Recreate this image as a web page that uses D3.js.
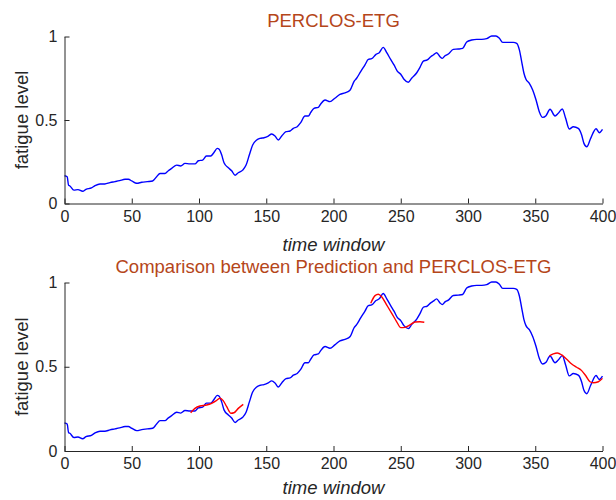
<!DOCTYPE html>
<html>
<head>
<meta charset="utf-8">
<script src="https://cdn.jsdelivr.net/npm/d3@7"></script>
<style>
  html, body { margin: 0; padding: 0; background: #fff; }
  svg { display: block; font-family: "Liberation Sans", Arial, sans-serif; }
</style>
</head>
<body>
<svg id="chart" width="616" height="500"></svg>
<script>
// ---- data ----
const timeWindow = [0,2,3,4,7,10,13.5,16,20,22.7,26.4,30,33.8,37.5,41,45,47.5,50,53.7,57.4,61.6,65.5,68.5,71,74.7,77,79.7,83.4,86.4,89.6,93.3,97,99.5,102.7,105.5,108.7,111,113.6,115,116.9,118.6,121.8,124.3,126.8,129.2,132.5,135,137.4,139.9,142.9,145.4,148.3,151.5,154,156.5,159,161.5,164.7,167.7,170.1,173,175.6,178.8,181.3,183,185.5,188.7,190.5,193.7,197.4,201,204.8,208.6,212.4,215.2,217.2,220.2,223.4,225.9,228.4,231.6,234,237,239.6,242.5,245,247.4,250,252.4,255.6,258.1,261.9,264.3,266.8,269.7,272.3,274.2,276.7,279.2,280.9,282.9,285.4,289.1,292.8,296,299,302.7,306.5,310.2,313.9,317.6,320.8,323.3,325.8,330,333.7,336.2,338.2,339.9,341.6,343.1,345.6,348.1,350.6,353,355.5,358,361,364.7,367.1,370.1,372.6,375.3,378.3,382,384.5,386.2,388.3,391.2,395.2,397.6,400];
const perclos = [0.166,0.16,0.11,0.105,0.08,0.083,0.073,0.085,0.093,0.107,0.117,0.117,0.125,0.131,0.137,0.145,0.145,0.135,0.121,0.127,0.131,0.135,0.16,0.18,0.18,0.195,0.21,0.23,0.225,0.24,0.237,0.237,0.256,0.26,0.284,0.284,0.304,0.33,0.325,0.29,0.244,0.214,0.196,0.169,0.184,0.2,0.23,0.29,0.35,0.38,0.39,0.394,0.404,0.416,0.404,0.38,0.404,0.43,0.434,0.45,0.46,0.484,0.524,0.524,0.544,0.57,0.576,0.596,0.62,0.61,0.63,0.653,0.663,0.68,0.73,0.75,0.79,0.83,0.863,0.867,0.893,0.903,0.935,0.903,0.863,0.83,0.793,0.774,0.744,0.726,0.75,0.783,0.815,0.853,0.86,0.879,0.889,0.903,0.879,0.869,0.885,0.895,0.923,0.925,0.929,0.967,0.979,0.983,0.983,0.987,1.003,1.003,0.989,0.965,0.965,0.965,0.959,0.92,0.85,0.78,0.744,0.72,0.68,0.62,0.55,0.516,0.526,0.564,0.524,0.54,0.566,0.51,0.446,0.46,0.45,0.41,0.36,0.34,0.39,0.448,0.424,0.444];

const pred1Time = [93.8,97,100.7,105.7,109.4,112.6,115.6,118,120.6,123.8,126,129.2,132.9];
const pred1 = [0.227,0.253,0.267,0.273,0.283,0.297,0.313,0.299,0.263,0.224,0.227,0.253,0.277];
const pred2Time = [227.7,230.9,233.3,235.8,239.6,243.3,247,250,253.2,256.9,260.6,264.3,267.5];
const pred2 = [0.877,0.922,0.93,0.916,0.866,0.817,0.767,0.732,0.734,0.748,0.766,0.767,0.764];
const pred3Time = [360.5,363.4,366.4,369.7,373.4,377.1,380.8,384.5,387.7,390.7,393.2,396.9,400];
const pred3 = [0.564,0.576,0.582,0.57,0.544,0.516,0.497,0.477,0.445,0.411,0.405,0.411,0.431];

const xTicks = [0,50,100,150,200,250,300,350,400];
const yTicks = [0,0.5,1];
const yTickLabels = ["0","0.5","1"];
const titles = ["PERCLOS-ETG", "Comparison between Prediction and PERCLOS-ETG"];
const xLabel = "time window";
const yLabel = "fatigue level";

// ---- drawing ----
const svg = d3.select("#chart");
const x = d3.scaleLinear().domain([0, 400]).range([64.5, 602.5]);
const panels = [
  { y0: 203.5, y1: 36.5, title: titles[0], xLabelOffset: 47,
    preds: [] },
  { y0: 451, y1: 282.5, title: titles[1], xLabelOffset: 43,
    preds: [[pred1Time, pred1], [pred2Time, pred2], [pred3Time, pred3]] }
];
const axisColor = "#262626";
const titleColor = "#b5461a";

panels.forEach(p => {
  const y = d3.scaleLinear().domain([0, 1]).range([p.y0, p.y1]);
  const g = svg.append("g");

  const line = d3.line().x(d => x(d[0])).y(d => y(d[1])).curve(d3.curveMonotoneX);

  g.append("path")
    .datum(d3.zip(timeWindow, perclos))
    .attr("d", line)
    .attr("fill", "none").attr("stroke", "#0000ff").attr("stroke-width", 1.4)
    .attr("stroke-linejoin", "round");

  p.preds.forEach(([tt, vv]) => {
    g.append("path")
      .datum(d3.zip(tt, vv))
      .attr("d", line)
      .attr("fill", "none").attr("stroke", "#ff0000").attr("stroke-width", 1.4)
      .attr("stroke-linejoin", "round");
  });

  const xAxis = d3.axisBottom(x).tickValues(xTicks).tickFormat(d3.format("d"))
    .tickSizeInner(-5).tickSizeOuter(0).tickPadding(7);
  const gx = g.append("g").attr("transform", `translate(0,${p.y0})`).call(xAxis);

  const yAxis = d3.axisLeft(y).tickValues(yTicks).tickFormat((d, i) => yTickLabels[i])
    .tickSizeInner(-5).tickSizeOuter(0).tickPadding(7);
  const gy = g.append("g").attr("transform", `translate(${x(0)},0)`).call(yAxis);

  [gx, gy].forEach(a => {
    a.select(".domain").attr("stroke", axisColor).attr("stroke-width", 1);
    a.selectAll(".tick line").attr("stroke", axisColor);
    a.selectAll(".tick text").attr("fill", "#262626")
      .style("font-size", "16px").style("font-family", "'Liberation Sans', Arial, sans-serif");
  });

  g.append("text")
    .attr("x", (x(0) + x(400)) / 2).attr("y", p.y1 - 10)
    .attr("text-anchor", "middle").attr("fill", titleColor)
    .style("font-size", "18.5px").text(p.title);

  g.append("text")
    .attr("x", (x(0) + x(400)) / 2).attr("y", p.y0 + p.xLabelOffset)
    .attr("text-anchor", "middle").attr("fill", "#262626")
    .style("font-size", "18.5px").style("font-style", "italic").text(xLabel);

  g.append("text")
    .attr("transform", `translate(28,${(p.y0 + p.y1) / 2}) rotate(-90)`)
    .attr("text-anchor", "middle").attr("fill", "#262626")
    .style("font-size", "18.5px").text(yLabel);
});
</script>
</body>
</html>
